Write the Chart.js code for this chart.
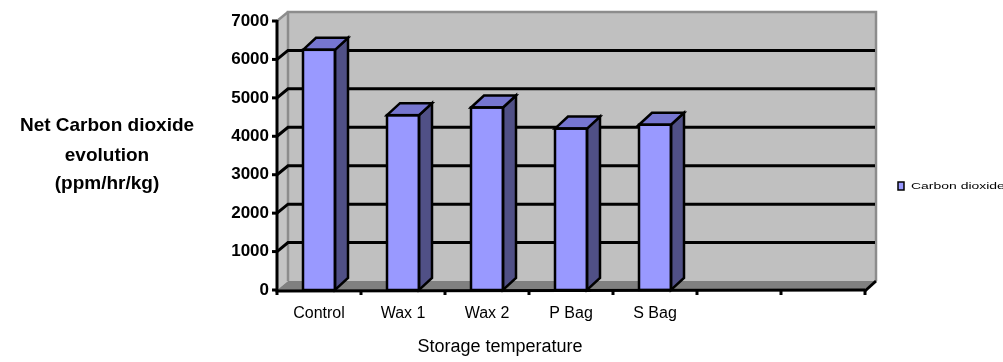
<!DOCTYPE html>
<html><head><meta charset="utf-8">
<script src="https://cdn.jsdelivr.net/npm/chart.js@4.4.1/dist/chart.umd.min.js"></script>
<style>html,body{margin:0;padding:0;background:#fff;}#wrap{width:1003px;height:362px;position:relative;}</style>
</head><body><div id="wrap"><canvas id="c" width="1003" height="362"></canvas></div>
<script>
const categories = ["Control", "Wax 1", "Wax 2", "P Bag", "S Bag", "", ""];
const co2Values = [6250, 4550, 4750, 4200, 4300, null, null];
const yTicks = [0, 1000, 2000, 3000, 4000, 5000, 6000, 7000];
const seriesLabel = "Carbon dioxide";
const yTitleLines = ["Net Carbon dioxide", "evolution", "(ppm/hr/kg)"];
const xTitle = "Storage temperature";

const FONT = "'Liberation Sans', Arial, Helvetica, sans-serif";
const WALL_DX = 11, WALL_DY = -9, BAR_DX = 13, BAR_DY = -12;

const threeD = {
  id: 'threeD',
  beforeDatasetsDraw(chart) {
    const {ctx, chartArea: a, scales: {y}} = chart;
    const L = a.left, R = a.right, T = a.top, B = a.bottom;
    ctx.save();
    ctx.fillStyle = '#c0c0c0';
    ctx.fillRect(L + WALL_DX, T + WALL_DY, R - L, B - T);
    ctx.beginPath();
    ctx.moveTo(L, T); ctx.lineTo(L + WALL_DX, T + WALL_DY);
    ctx.lineTo(L + WALL_DX, B + WALL_DY); ctx.lineTo(L, B); ctx.closePath();
    ctx.fillStyle = '#c4c4c4'; ctx.fill();
    ctx.beginPath();
    ctx.moveTo(L, B); ctx.lineTo(L + WALL_DX, B + WALL_DY);
    ctx.lineTo(R + WALL_DX, B + WALL_DY); ctx.lineTo(R, B); ctx.closePath();
    ctx.fillStyle = '#808080'; ctx.fill();
    ctx.strokeStyle = '#8c8c8c'; ctx.lineWidth = 2.5;
    ctx.beginPath();
    ctx.moveTo(L + WALL_DX, B + WALL_DY); ctx.lineTo(L + WALL_DX, T + WALL_DY);
    ctx.lineTo(R + WALL_DX, T + WALL_DY); ctx.lineTo(R + WALL_DX, B + WALL_DY);
    ctx.stroke();
    ctx.beginPath(); ctx.moveTo(L, T); ctx.lineTo(L + WALL_DX, T + WALL_DY); ctx.stroke();
    ctx.strokeStyle = '#000'; ctx.lineWidth = 3;
    yTicks.forEach(v => {
      if (v === yTicks[0] || v === yTicks[yTicks.length - 1]) return;
      const py = y.getPixelForValue(v);
      ctx.beginPath();
      ctx.moveTo(L, py); ctx.lineTo(L + WALL_DX, py + WALL_DY);
      ctx.lineTo(R + WALL_DX - 1, py + WALL_DY);
      ctx.stroke();
    });
    ctx.restore();
  },
  afterDatasetsDraw(chart) {
    const {ctx, chartArea: a, scales: {x, y}} = chart;
    const L = a.left, R = a.right, T = a.top, B = a.bottom;
    ctx.save();
    ctx.lineJoin = 'miter';
    const meta = chart.getDatasetMeta(0);
    meta.data.forEach((bar, i) => {
      if (co2Values[i] == null) return;
      const p = bar.getProps(['x', 'y', 'base', 'width'], true);
      const xl = p.x - p.width / 2, xr = p.x + p.width / 2;
      ctx.beginPath();
      ctx.moveTo(xr, p.y); ctx.lineTo(xr + BAR_DX, p.y + BAR_DY);
      ctx.lineTo(xr + BAR_DX, p.base + BAR_DY); ctx.lineTo(xr, p.base); ctx.closePath();
      ctx.fillStyle = '#505086'; ctx.fill();
      ctx.strokeStyle = '#000'; ctx.lineWidth = 2.5; ctx.stroke();
      ctx.beginPath();
      ctx.moveTo(xl, p.y); ctx.lineTo(xl + BAR_DX, p.y + BAR_DY);
      ctx.lineTo(xr + BAR_DX, p.y + BAR_DY); ctx.lineTo(xr, p.y); ctx.closePath();
      ctx.fillStyle = '#7676d0'; ctx.fill(); ctx.stroke();
      ctx.strokeRect(xl, p.y, p.width, p.base - p.y);
    });
    ctx.strokeStyle = '#000'; ctx.lineWidth = 3;
    ctx.beginPath(); ctx.moveTo(L, T - 1); ctx.lineTo(L, B + 1); ctx.lineTo(R, B); ctx.stroke();
    ctx.beginPath(); ctx.moveTo(R, B + 1); ctx.lineTo(R + WALL_DX, B + WALL_DY); ctx.stroke();
    yTicks.forEach(v => {
      const py = y.getPixelForValue(v);
      ctx.beginPath(); ctx.moveTo(L - 5, py); ctx.lineTo(L, py); ctx.stroke();
    });
    const n = categories.length;
    const step = x.getPixelForValue(1) - x.getPixelForValue(0);
    for (let i = 0; i <= n; i++) {
      const px = i < n ? x.getPixelForValue(i) - step / 2 : R;
      ctx.beginPath(); ctx.moveTo(px, B); ctx.lineTo(px, B + 5); ctx.stroke();
    }
    ctx.restore();
  },
  afterDraw(chart) {
    const {ctx} = chart;
    ctx.save();
    ctx.fillStyle = '#000';
    ctx.textAlign = 'center'; ctx.textBaseline = 'middle';
    ctx.font = 'bold 19px ' + FONT;
    [126, 156, 184].forEach((yy, i) => ctx.fillText(yTitleLines[i], 107, yy));
    ctx.font = '18px ' + FONT;
    ctx.fillText(xTitle, 500, 347);
    ctx.fillStyle = '#9999ff'; ctx.strokeStyle = '#000'; ctx.lineWidth = 1.5;
    ctx.fillRect(898, 182, 6, 8); ctx.strokeRect(898, 182, 6, 8);
    ctx.fillStyle = '#000'; ctx.textAlign = 'left';
    ctx.translate(911, 187); ctx.scale(1.55, 1);
    ctx.font = '9px ' + FONT;
    ctx.fillText(chart.data.datasets[0].label, 0, 0);
    ctx.restore();
  }
};

new Chart(document.getElementById('c'), {
  type: 'bar',
  data: {
    labels: categories,
    datasets: [{
      label: seriesLabel,
      data: co2Values,
      backgroundColor: '#9999ff',
      borderColor: '#000',
      borderWidth: 0,
      barThickness: 32
    }]
  },
  options: {
    responsive: false,
    animation: false,
    layout: {padding: {left: 0, right: 138, top: 21, bottom: 0}},
    plugins: {legend: {display: false}, tooltip: {enabled: false}},
    scales: {
      x: {
        grid: {display: false, drawTicks: false},
        border: {display: false},
        ticks: {font: {family: FONT, size: 16}, color: '#000', padding: 14, maxRotation: 0, autoSkip: false},
        afterFit(s) { s.height = 72; }
      },
      y: {
        min: 0, max: 7000,
        grid: {display: false, drawTicks: false},
        border: {display: false},
        ticks: {stepSize: 1000, font: {family: FONT, size: 17, weight: 'bold'}, color: '#000', padding: 8,
                callback: v => String(v)},
        afterFit(s) { s.width = 277; }
      }
    }
  },
  plugins: [threeD]
});
</script>
</body></html>
